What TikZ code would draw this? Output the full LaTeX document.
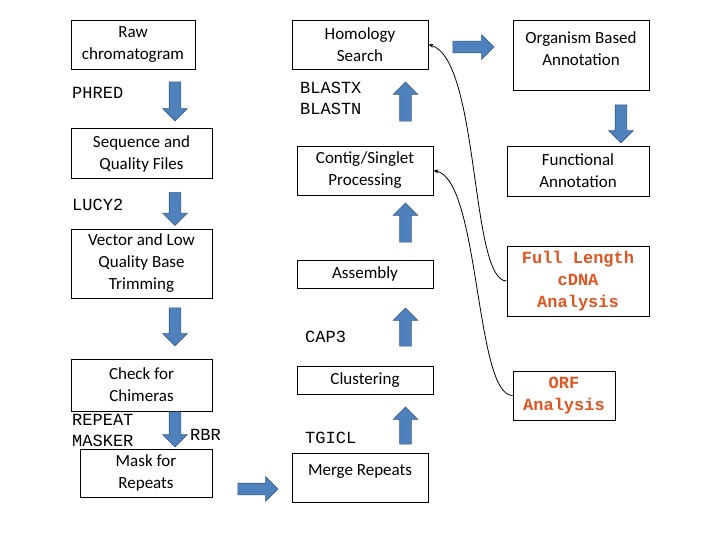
\documentclass[tikz,border=0pt]{standalone}
\usepackage{fontspec}
\setmainfont{Carlito}
\newfontfamily\monof{Liberation Mono}
\usetikzlibrary{shapes.arrows,arrows.meta}
\definecolor{arrblue}{RGB}{79,129,189}
\definecolor{arrbord}{RGB}{56,93,138}
\definecolor{orng}{RGB}{222,85,34}
\begin{document}
\begin{tikzpicture}[x=1pt,y=-1pt,
  box/.style={draw,line width=0.8pt,align=center,font=\fontsize{17}{22}\selectfont,inner sep=0pt},
  hl/.style={box,text=orng,font=\monof\bfseries\fontsize{17}{22}\selectfont},
  lbl/.style={font=\monof\fontsize{17}{21}\selectfont,align=left,anchor=north west,inner sep=0pt},
  blk/.style={single arrow,draw=arrbord,fill=arrblue,line width=0.6pt,inner sep=5.5pt,
    single arrow head extend=6.5pt,single arrow head indent=0pt,minimum height=#1},
  curv/.style={line width=0.8pt,-{Stealth[length=5pt,width=4pt]}}]
\useasboundingbox (0,0) rectangle (720,540);
% column 1
\node[box,minimum width=124,minimum height=49] (raw) at (133,44.5) {Raw\\chromatogram};
\node[box,minimum width=141,minimum height=50] (seq) at (141.5,153.5) {Sequence and\\Quality Files};
\node[box,minimum width=141,minimum height=69] (vec) at (141.5,263.5) {Vector and Low\\Quality Base\\Trimming};
\node[box,minimum width=141,minimum height=52] (chk) at (141.5,385) {Check for\\Chimeras};
\node[box,minimum width=132,minimum height=48] (msk) at (146,473) {Mask for\\Repeats};
% column 2
\node[box,minimum width=136,minimum height=49] (hom) at (360,44.5) {Homology\\Search};
\node[box,minimum width=136,minimum height=49] (con) at (365,170.5) {Contig/Singlet\\Processing};
\node[box,minimum width=136,minimum height=28] (asm) at (365,274) {Assembly};
\node[box,minimum width=136,minimum height=28] (clu) at (365,380) {Clustering};
\node[box,minimum width=136,minimum height=49,text depth=14] (mrg) at (360,477.5) {Merge Repeats};
% column 3
\node[box,minimum width=136,minimum height=70,text depth=12] (org) at (581,55) {Organism Based\\Annotation};
\node[box,minimum width=142,minimum height=50] (fun) at (578,171) {Functional\\Annotation};
\node[hl,minimum width=142,minimum height=70] (ful) at (578,281) {Full Length\\cDNA\\Analysis};
\node[hl,minimum width=102,minimum height=49] (orf) at (564,395.5) {ORF\\Analysis};
% labels
\node[lbl] (l1) at (72,87) {PHRED};
\node[lbl] (l2) at (72,199) {LUCY2};
\node[lbl] (l3) at (72,414) {REPEAT\\MASKER};
\node[lbl] (l4) at (190,429) {RBR};
\node[lbl] (l5) at (300,82) {BLASTX\\BLASTN};
\node[lbl] (l6) at (305,331) {CAP3};
\node[lbl] (l7) at (305,432) {TGICL};
% block arrows
\node[blk=39,shape border rotate=270] (a1) at (175,98.5) {};
\node[blk=33,shape border rotate=270] (a2) at (175,206) {};
\node[blk=38,shape border rotate=270] (a3) at (175,324) {};
\node[blk=35,shape border rotate=270] (a4) at (175,426.5) {};
\node[blk=40] (a5) at (255,489) {};
\node[blk=39,shape border rotate=90] (a6) at (405.5,104.5) {};
\node[blk=39,shape border rotate=90] (a7) at (405.5,225.5) {};
\node[blk=38,shape border rotate=90] (a8) at (405.5,330) {};
\node[blk=37,shape border rotate=90] (a9) at (405.5,428.5) {};
\node[blk=41] (a10) at (470.5,47) {};
\node[blk=38,shape border rotate=270] (a11) at (621,121) {};
% curves
\draw[curv] (ful.west) .. controls (470,281) and (480,60) .. (hom.east);
\draw[curv] (orf.west) .. controls (475,396) and (480,180) .. (con.east);
\end{tikzpicture}
\end{document}
